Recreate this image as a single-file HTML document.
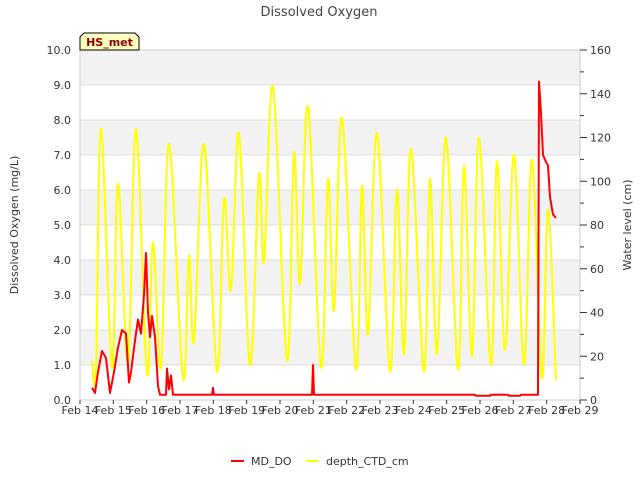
<!DOCTYPE html>
<html><head><meta charset="utf-8"><style>
body{margin:0;background:#fff;font-family:"Liberation Sans","DejaVu Sans",sans-serif;}
svg text{font-family:"DejaVu Sans","Liberation Sans",sans-serif;}
</style></head><body>
<svg id="chart" width="640" height="480" viewBox="0 0 640 480" xmlns="http://www.w3.org/2000/svg">
<text x="319" y="16" font-size="13" fill="#444" text-anchor="middle">Dissolved Oxygen</text>
<g id="bands"></g><g id="grid"></g>
<rect x="80" y="50" width="500" height="350" fill="none" stroke="#ccc"/>
<g id="axes"></g>
<g id="series"></g>
<g>
<path d="M80,50 L80,37 L84,33 L135,33 L139,37 L139,50 Z" fill="#ffffc0" stroke="#000"/>
<text x="109.5" y="46" font-size="11" font-weight="bold" fill="#8b0000" text-anchor="middle">HS_met</text>
</g>
<text transform="translate(18,225) rotate(-90)" font-size="11" fill="#333" text-anchor="middle">Dissolved Oxygen (mg/L)</text>
<text transform="translate(631,225) rotate(-90)" font-size="11" fill="#333" text-anchor="middle">Water level (cm)</text>
<g>
<line x1="231" y1="461" x2="244" y2="461" stroke="#ff0000" stroke-width="2"/>
<text x="251" y="465" font-size="11" fill="#333">MD_DO</text>
<line x1="306" y1="461" x2="319" y2="461" stroke="#ffff00" stroke-width="2"/>
<text x="326" y="465" font-size="11" fill="#333">depth_CTD_cm</text>
</g>
</svg>
<script>
const xTickLabels=["Feb 14","Feb 15","Feb 16","Feb 17","Feb 18","Feb 19","Feb 20","Feb 21","Feb 22","Feb 23","Feb 24","Feb 25","Feb 26","Feb 27","Feb 28","Feb 29"];
const leftTicks=[0,1,2,3,4,5,6,7,8,9,10];
const rightTicks=[0,20,40,60,80,100,120,140,160];
const depthDays=[0.36,0.48,0.63,0.96,1.14,1.44,1.68,2.01,2.19,2.43,2.67,3.09,3.27,3.42,3.72,4.11,4.32,4.53,4.77,5.1,5.37,5.52,5.79,6.21,6.42,6.6,6.84,7.23,7.44,7.62,7.86,8.28,8.46,8.64,8.91,9.3,9.51,9.72,9.93,10.32,10.5,10.71,10.98,11.34,11.52,11.76,11.97,12.33,12.51,12.75,13.02,13.32,13.56,13.86,14.04,14.28];
const depthCm=[18,14,124,15,99,17,124,12,72,15,117,10,66,27,117,13,92,50,122,16,103,63,143,18,113,53,134,15,101,41,129,14,98,30,122,13,96,21,115,13,101,21,120,14,107,20,120,16,109,23,112,16,110,10,87,9];
const doDays=[0.36,0.45,0.54,0.66,0.78,0.9,1.02,1.14,1.26,1.38,1.47,1.53,1.65,1.74,1.83,1.92,1.98,2.04,2.1,2.16,2.25,2.34,2.4,2.58,2.61,2.67,2.73,2.79,3.96,3.99,4.02,6.96,6.99,7.02,11.85,11.88,12.3,12.33,12.84,12.87,13.2,13.23,13.74,13.77,13.83,13.89,13.98,14.04,14.1,14.19,14.28];
const doVals=[0.35,0.2,0.8,1.4,1.2,0.2,0.8,1.5,2.0,1.9,0.5,0.8,1.7,2.3,1.9,3.0,4.2,2.5,1.8,2.4,1.8,0.4,0.15,0.15,0.9,0.3,0.7,0.15,0.15,0.35,0.15,0.15,1.0,0.15,0.15,0.12,0.12,0.15,0.15,0.12,0.12,0.15,0.15,9.1,8.2,7.0,6.8,6.7,5.8,5.3,5.2];
const NS="http://www.w3.org/2000/svg";
const X=d=>80+d*500/15, YL=v=>400-v*35, YR=v=>400-v*350/160;
function mk(t,a,p){const e=document.createElementNS(NS,t);for(const k in a)e.setAttribute(k,a[k]);p.appendChild(e);return e;}
const bands=document.getElementById('bands'),grid=document.getElementById('grid'),axes=document.getElementById('axes'),series=document.getElementById('series');
for(let v=1;v<10;v+=2){const r=mk('rect',{x:80,y:YL(v+1),width:500,height:35,fill:'#f2f2f2'},bands);

}
leftTicks.forEach(v=>{const l=mk('line',{x1:80,x2:580,y1:YL(v),y2:YL(v),stroke:'#ddd'},grid);


const t=mk('text',{x:71,y:YL(v)+4,'font-size':11,fill:'#333','text-anchor':'end'},axes);t.textContent=v.toFixed(1);

});
for(let v=0;v<=160;v+=10){const l=mk('line',{x1:580,x2:v%20?584:587,y1:YR(v),y2:YR(v),stroke:'#333'},axes);

}
rightTicks.forEach(v=>{const t=mk('text',{x:590,y:YR(v)+4,'font-size':11,fill:'#333'},axes);t.textContent=v;

});
xTickLabels.forEach((s,i)=>{mk('line',{x1:X(i),x2:X(i),y1:400,y2:404,stroke:'#333'},axes);
const t=mk('text',{x:X(i),y:414,'font-size':11,fill:'#333','text-anchor':'middle'},axes);t.textContent=s;

});
function smooth(pts){let d='M'+pts[0][0]+','+pts[0][1];for(let i=0;i<pts.length-1;i++){const p0=pts[i-1]||pts[i],p1=pts[i],p2=pts[i+1],p3=pts[i+2]||p2;const k=0.18;
d+=` C${p1[0]+(p2[0]-p0[0])*k},${p1[1]+(p2[1]-p0[1])*k} ${p2[0]-(p3[0]-p1[0])*k},${p2[1]-(p3[1]-p1[1])*k} ${p2[0]},${p2[1]}`;}return d;}
const dp=mk('path',{d:smooth(depthDays.map((d,i)=>[X(d),YR(depthCm[i])])),fill:'none',stroke:'#ffff00','stroke-width':2},series);


const rp=mk('polyline',{points:doDays.map((d,i)=>X(d)+','+YL(doVals[i])).join(' '),fill:'none',stroke:'#ff0000','stroke-width':2,'stroke-linejoin':'round'},series);


</script>
</body></html>
